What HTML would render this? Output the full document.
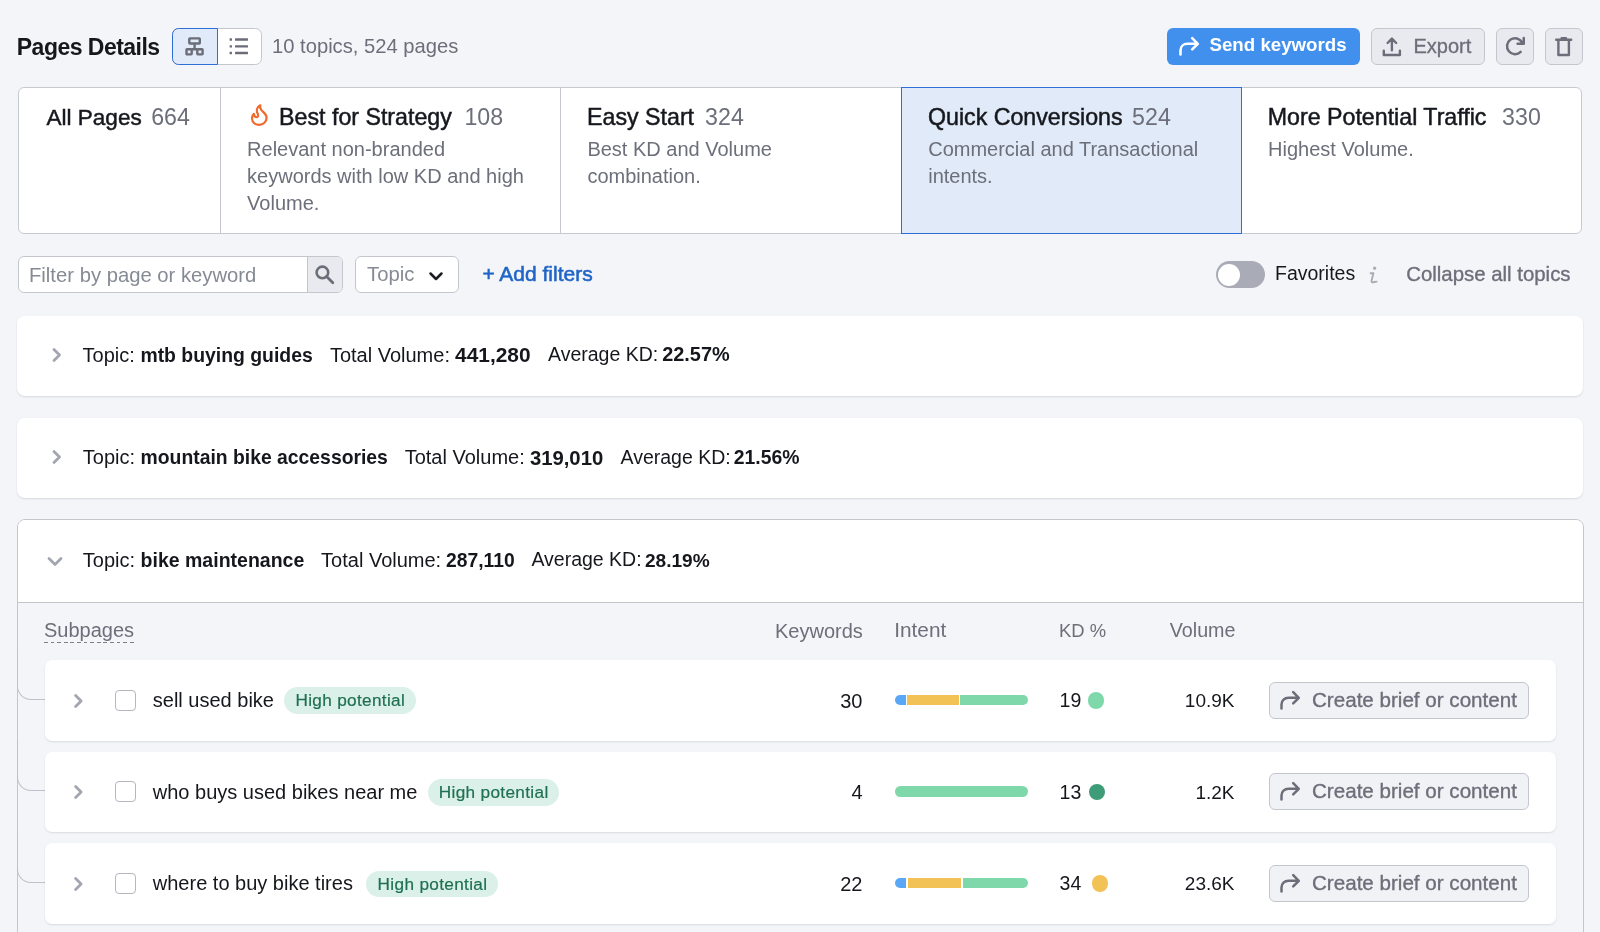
<!DOCTYPE html>
<html><head><meta charset="utf-8">
<style>
*{box-sizing:border-box;margin:0;padding:0}
html,body{width:1600px;height:932px;overflow:hidden;-webkit-font-smoothing:antialiased;background:#f4f5f9;font-family:"Liberation Sans",sans-serif;color:#15171c}
.a{position:absolute}
.t{position:absolute;white-space:nowrap;line-height:1}
.med{-webkit-text-stroke:0.35px currentColor}
.ttl{-webkit-text-stroke:0.5px #1b1d22}
.gray{color:#6c6f7a}
svg{position:absolute;overflow:visible}
.btn{position:absolute;border:1px solid #c4c6cd;background:#e9eaef;border-radius:6px}
.tabs{position:absolute;left:18px;top:87px;width:1564px;height:147px;background:#fff;border:1px solid #c7c9d0;border-radius:6px;overflow:hidden}
.div{position:absolute;top:0;bottom:0;width:1px;background:#c7c9d0}
.card{position:absolute;left:17px;width:1566px;background:#fff;border-radius:8px;box-shadow:0 1px 2px rgba(30,40,60,0.14)}
.row{position:absolute;left:44.5px;width:1511px;height:80.5px;background:#fff;border-radius:7px;box-shadow:0 1px 2px rgba(30,40,60,0.12)}
.cb{position:absolute;width:21px;height:21px;border:1px solid #b4b7c0;border-radius:4px;background:#fff}
.badge{position:absolute;width:131.6px;height:26.8px;border-radius:14px;background:#dcf0ea;color:#1f7052;-webkit-text-stroke:0.2px #1f7052}
.cbtn{position:absolute;left:1224px;width:260px;height:37px;top:21.5px;border:1px solid #c4c6cd;background:#f1f2f5;border-radius:6px}
</style></head><body>
<div style="position:absolute;left:0;top:0;width:1600px;height:932px;will-change:transform">

<!-- header -->
<div class="t" style="left:16.8px;top:36px;font-size:23px;font-weight:700;letter-spacing:-0.52px">Pages Details</div>

<div class="a" style="left:172px;top:28px;width:89.5px;height:37px;border:1px solid #c4c6cd;border-radius:6.5px;background:#fff"></div>
<div class="a" style="left:172px;top:28px;width:45.5px;height:37px;border:1.5px solid #2c6fd6;border-radius:6.5px 0 0 6.5px;background:#e1eaf8"></div>
<svg style="left:184px;top:36px" width="22" height="22" viewBox="0 0 22 22">
  <g fill="none" stroke="#6b6e79" stroke-width="2.4" stroke-linejoin="round">
    <rect x="5.3" y="2.4" width="10.5" height="5.1" rx="0.6"/>
    <rect x="2.5" y="13.2" width="5.2" height="5.2" rx="0.6"/>
    <rect x="13.3" y="13.2" width="5.3" height="5.2" rx="0.6"/>
    <path d="M10.6 7.5V13.2M7.7 13.2H13.3"/>
  </g>
</svg>
<svg style="left:228px;top:36px" width="22" height="22" viewBox="0 0 22 22">
  <g fill="#6b6e79"><rect x="1.6" y="2.3" width="2.4" height="2.4" rx="0.5"/><rect x="1.6" y="9.2" width="2.4" height="2.4" rx="0.5"/><rect x="1.6" y="15.8" width="2.4" height="2.4" rx="0.5"/>
  <rect x="7" y="2.3" width="13" height="2.4" rx="0.5"/><rect x="7" y="9.2" width="13" height="2.4" rx="0.5"/><rect x="7" y="15.8" width="13" height="2.4" rx="0.5"/></g>
</svg>
<div class="t gray" style="left:272px;top:35.8px;font-size:20.2px">10 topics, 524 pages</div>

<!-- send keywords -->
<div class="a" style="left:1166.5px;top:27.5px;width:193px;height:37.5px;background:#4290ee;border-radius:6px"></div>
<svg style="left:1176.6px;top:35px" width="24" height="22" viewBox="0 0 24 22">
  <path d="M3.5 19.5V15.5C3.5 11.5 6.5 8.8 10.5 8.8H20.5M15.2 3.2L20.8 8.8L15.2 14.4" fill="none" stroke="#fff" stroke-width="2.6" stroke-linecap="round" stroke-linejoin="round"/>
</svg>
<div class="t" style="left:1209.5px;top:36.3px;font-size:18.7px;font-weight:700;color:#fff">Send keywords</div>

<!-- export -->
<div class="btn" style="left:1370.5px;top:27.5px;width:114.5px;height:37.5px"></div>
<svg style="left:1381px;top:36px" width="22" height="22" viewBox="0 0 22 22">
  <path d="M10.9 14.2V2.8M6.6 7L10.9 2.6L15.2 7M2.8 14.6V19H18.9V14.6" fill="none" stroke="#6b6e79" stroke-width="2.4" stroke-linecap="round" stroke-linejoin="round"/>
</svg>
<div class="t gray med" style="left:1413.5px;top:35.6px;font-size:20px">Export</div>

<!-- refresh -->
<div class="btn" style="left:1496px;top:27.5px;width:37.5px;height:37.5px"></div>
<svg style="left:1504px;top:36px" width="22" height="22" viewBox="0 0 22 22">
  <path d="M16.66 15.9A8 8 0 1 1 18.1 6.4M19.75 1.9V7.75H13.6" fill="none" stroke="#6b6e79" stroke-width="2.5" stroke-linecap="round" stroke-linejoin="round"/>
</svg>
<!-- trash -->
<div class="btn" style="left:1545px;top:27.5px;width:37.5px;height:37.5px"></div>
<svg style="left:1553px;top:36px" width="22" height="22" viewBox="0 0 22 22">
  <path d="M3.2 3.8H18.2M8.6 2.2H13" fill="none" stroke="#6b6e79" stroke-width="2.4" stroke-linecap="round"/><path d="M5.4 4V19H15.9V4" fill="none" stroke="#6b6e79" stroke-width="2.4" stroke-linejoin="round"/>
</svg>

<!-- tabs -->
<div class="tabs">
  <div class="div" style="left:201px"></div>
  <div class="div" style="left:541px"></div>
  <div class="div" style="left:1222px"></div>
</div>
<div class="a" style="left:900.5px;top:87px;width:341.5px;height:147px;background:#e0eaf9;border:1.5px solid #2d6fd8"></div>

<div class="t ttl" style="left:46.6px;top:107.2px;font-size:22.5px">All Pages</div>
<div class="t gray" style="left:151.2px;top:106.2px;font-size:23.2px">664</div>

<svg style="left:249.6px;top:103px" width="20" height="24" viewBox="0 0 20 24">
  <path d="M10.3 2.3C7.2 4 5.9 7.4 7.7 10.7C8.7 12.6 7.9 14.5 6.1 14.2C4.7 13.9 3.9 12.7 3.9 10.8C2.5 12 1.9 13.6 2 15.4C2.2 19.4 5.4 21.8 9.2 21.8C13.4 21.8 16.6 18.8 16.6 14.6C16.6 10.8 13 9 11.2 6.9C10.4 5.8 10.1 4 10.3 2.3Z" fill="none" stroke="#ee6a2e" stroke-width="2.2" stroke-linejoin="round"/>
</svg>
<div class="t ttl" style="left:279.1px;top:106.2px;font-size:23.2px">Best for Strategy</div>
<div class="t gray" style="left:464.4px;top:106.2px;font-size:23.2px">108</div>
<div class="a gray" style="left:247.1px;top:135.5px;font-size:20px;line-height:27px;width:320px;white-space:nowrap">Relevant non-branded<br>keywords with low KD and high<br>Volume.</div>

<div class="t ttl" style="left:587.1px;top:106.2px;font-size:23.2px">Easy Start</div>
<div class="t gray" style="left:705.1px;top:106.2px;font-size:23.2px">324</div>
<div class="a gray" style="left:587.4px;top:135.5px;font-size:20px;line-height:27px;width:320px;white-space:nowrap">Best KD and Volume<br>combination.</div>

<div class="t ttl" style="left:928px;top:106.2px;font-size:23.2px">Quick Conversions</div>
<div class="t gray" style="left:1132.1px;top:106.2px;font-size:23.2px">524</div>
<div class="a gray" style="left:928.2px;top:135.5px;font-size:20px;line-height:27px;width:320px;white-space:nowrap">Commercial and Transactional<br>intents.</div>

<div class="t ttl" style="left:1267.8px;top:106.2px;font-size:23.2px">More Potential Traffic</div>
<div class="t gray" style="left:1502.1px;top:106.2px;font-size:23.2px">330</div>
<div class="a gray" style="left:1268.1px;top:135.5px;font-size:20px;line-height:27px;width:320px;white-space:nowrap">Highest Volume.</div>

<!-- filters -->
<div class="a" style="left:18px;top:256px;width:325px;height:37px;border:1px solid #c4c6cd;border-radius:6px;background:#fff;overflow:hidden">
  <div class="a" style="left:287.6px;top:0;width:37px;height:36px;background:#e9eaef;border-left:1px solid #c4c6cd"></div>
</div>
<div class="t" style="left:29px;top:265px;font-size:20.25px;color:#868a94">Filter by page or keyword</div>
<svg style="left:314px;top:264.2px" width="22" height="22" viewBox="0 0 22 22">
  <circle cx="8.4" cy="8.4" r="5.8" fill="none" stroke="#6b6e79" stroke-width="2.6"/>
  <path d="M12.6 12.6L18.8 18.8" stroke="#6b6e79" stroke-width="2.8" stroke-linecap="round"/>
</svg>

<div class="a" style="left:354.5px;top:256px;width:104px;height:37px;border:1px solid #c4c6cd;border-radius:6px;background:#fff"></div>
<div class="t" style="left:367px;top:263.6px;font-size:20.3px;color:#868a94">Topic</div>
<svg style="left:428px;top:269.8px" width="16" height="12" viewBox="0 0 16 12">
  <path d="M2.5 3.5L8 9L13.5 3.5" fill="none" stroke="#1b1d22" stroke-width="2.5" stroke-linecap="round" stroke-linejoin="round"/>
</svg>
<div class="t" style="left:482.4px;top:262.6px;font-size:21px;color:#1f64c6;-webkit-text-stroke:0.55px #1f64c6">+ Add filters</div>

<div class="a" style="left:1216.2px;top:261.2px;width:48.6px;height:26.8px;border-radius:14px;background:#a9acb6"></div>
<div class="a" style="left:1218.4px;top:263.8px;width:22px;height:22px;border-radius:50%;background:#fff"></div>
<div class="t" style="left:1275px;top:264.4px;font-size:19.5px">Favorites</div>
<svg style="left:1366px;top:265px" width="14" height="20" viewBox="0 0 14 20"><circle cx="8.6" cy="3.2" r="1.6" fill="#a8abb5"/><path d="M4.6 8.2H7.4L5.6 15.6C5.3 16.8 6 17.5 7.2 17.3L10.6 16.6" fill="none" stroke="#a8abb5" stroke-width="1.9" stroke-linecap="round" stroke-linejoin="round"/></svg>
<div class="t gray med" style="left:1406.2px;top:264.1px;font-size:20.4px">Collapse all topics</div>

<!-- topic cards -->
<div class="card" style="top:315.5px;height:80.5px"></div>
<svg style="left:50px;top:347px" width="14" height="16" viewBox="0 0 14 16">
  <path d="M4 2.5L9.5 8L4 13.5" fill="none" stroke="#a3a6b0" stroke-width="2.8" stroke-linecap="round" stroke-linejoin="round"/>
</svg>
<div class="t" style="left:82.6px;top:344.60px;font-size:20px;">Topic:</div>
<div class="t" style="left:140.4px;top:345.91px;font-size:19.4px;font-weight:700;">mtb buying guides</div>
<div class="t" style="left:329.9px;top:344.60px;font-size:20px;">Total Volume:</div>
<div class="t" style="left:455.1px;top:344.64px;font-size:20.9px;font-weight:700;">441,280</div>
<div class="t" style="left:548px;top:345.03px;font-size:19.5px;">Average KD:</div>
<div class="t" style="left:662.2px;top:345.49px;font-size:19.9px;font-weight:700;">22.57%</div>


<div class="card" style="top:417.7px;height:80.5px"></div>
<svg style="left:50px;top:449px" width="14" height="16" viewBox="0 0 14 16">
  <path d="M4 2.5L9.5 8L4 13.5" fill="none" stroke="#a3a6b0" stroke-width="2.8" stroke-linecap="round" stroke-linejoin="round"/>
</svg>
<div class="t" style="left:82.8px;top:447.10px;font-size:20px;">Topic:</div>
<div class="t" style="left:140.6px;top:448.45px;font-size:19.35px;font-weight:700;">mountain bike accessories</div>
<div class="t" style="left:404.7px;top:447.10px;font-size:20px;">Total Volume:</div>
<div class="t" style="left:529.9px;top:447.65px;font-size:20.3px;font-weight:700;">319,010</div>
<div class="t" style="left:620.5px;top:447.53px;font-size:19.5px;">Average KD:</div>
<div class="t" style="left:733.7px;top:448.41px;font-size:19.4px;font-weight:700;">21.56%</div>


<div class="a" style="left:16.5px;top:519px;width:1567px;height:500px;border:1.2px solid #c3c6cd;border-radius:8px;background:#f4f5f9;overflow:hidden">
  <div class="a" style="left:0;top:0;right:0;height:82.5px;background:#fff;border-bottom:1.2px solid #c3c6cd"></div>
</div>
<svg style="left:46px;top:555px" width="18" height="14" viewBox="0 0 18 14">
  <path d="M3 3.5L9 9.5L15 3.5" fill="none" stroke="#a3a6b0" stroke-width="2.8" stroke-linecap="round" stroke-linejoin="round"/>
</svg>
<div class="t" style="left:82.8px;top:549.90px;font-size:20px;">Topic:</div>
<div class="t" style="left:140.6px;top:551.12px;font-size:19.5px;font-weight:700;">bike maintenance</div>
<div class="t" style="left:321.1px;top:549.90px;font-size:20px;">Total Volume:</div>
<div class="t" style="left:446.1px;top:551.30px;font-size:19.3px;font-weight:700;">287,110</div>
<div class="t" style="left:531.4px;top:550.32px;font-size:19.5px;">Average KD:</div>
<div class="t" style="left:644.9px;top:551.46px;font-size:19.1px;font-weight:700;">28.19%</div>


<!-- subpages header -->
<div class="t gray" style="left:44px;top:619.9px;font-size:20px">Subpages</div>
<div class="a" style="left:44.4px;top:641.6px;width:89.6px;height:1.5px;background:repeating-linear-gradient(to right,#7d808a 0 3.8px,transparent 3.8px 6.6px)"></div>
<div class="t gray" style="left:775px;top:621.00px;font-size:20px">Keywords</div>
<div class="t gray" style="left:894.2px;top:620.32px;font-size:20.8px">Intent</div>
<div class="t gray" style="left:1059.1px;top:622.36px;font-size:18.4px">KD %</div>
<div class="t gray" style="left:1169.8px;top:621.25px;font-size:19.7px">Volume</div>

<!-- connectors -->
<div class="a" style="left:17px;top:649.5px;width:28px;height:50px;border-left:1.2px solid #bec1c9;border-bottom:1.2px solid #bec1c9;border-bottom-left-radius:14px"></div>
<div class="a" style="left:17px;top:741.2px;width:28px;height:50px;border-left:1.2px solid #bec1c9;border-bottom:1.2px solid #bec1c9;border-bottom-left-radius:14px"></div>
<div class="a" style="left:17px;top:832.7px;width:28px;height:50px;border-left:1.2px solid #bec1c9;border-bottom:1.2px solid #bec1c9;border-bottom-left-radius:14px"></div>

<!-- rows -->
<div class="row" style="top:660.0px">
  <svg style="left:27px;top:32.5px" width="14" height="16" viewBox="0 0 14 16"><path d="M3.6 2.5L9.1 8L3.6 13.5" fill="none" stroke="#a3a6b0" stroke-width="2.8" stroke-linecap="round" stroke-linejoin="round"/></svg>
  <div class="cb" style="left:70.2px;top:29.6px"></div>
  <div class="t" style="left:108.3px;top:30.25px;font-size:20px">sell used bike</div>
  <div class="badge" style="left:239.6px;top:27.4px"><div class="t" style="left:0.4px;width:131.6px;text-align:center;top:5px;font-size:17.2px;letter-spacing:0.33px;line-height:1">High potential</div></div>
  <div class="t" style="right:693px;top:30.5px;font-size:20px">30</div>
  <div class="a" style="left:850.9px;top:34.8px;width:132.3px;height:10.5px;border-radius:6px;overflow:hidden;background:#fff"><div class="a" style="left:0px;top:0;width:10.6px;height:10.5px;background:#5aa8f5"></div><div class="a" style="left:12.1px;top:0;width:51.5px;height:10.5px;background:#f3c257"></div><div class="a" style="left:65.1px;top:0;width:67.2px;height:10.5px;background:#7fd8a9"></div></div>
  <div class="t" style="left:1015.1px;top:30.9px;font-size:19.5px">19</div>
  <div class="a" style="left:1043.5px;top:32.2px;width:16.4px;height:16.4px;border-radius:50%;background:#7fd8a9"></div>
  <div class="t" style="right:321px;top:31.1px;font-size:19px">10.9K</div>
  <div class="cbtn">
    <svg style="left:8px;top:6px" width="24" height="22" viewBox="0 0 24 22"><path d="M3.5 19.5V15.5C3.5 11.5 6.5 8.8 10.5 8.8H20.5M15.2 3.2L20.8 8.8L15.2 14.4" fill="none" stroke="#6b6e79" stroke-width="2.5" stroke-linecap="round" stroke-linejoin="round"/></svg>
    <div class="t gray med" style="left:42.5px;top:7.3px;font-size:20.6px">Create brief or content</div>
  </div>
</div>
<div class="row" style="top:751.7px">
  <svg style="left:27px;top:32.5px" width="14" height="16" viewBox="0 0 14 16"><path d="M3.6 2.5L9.1 8L3.6 13.5" fill="none" stroke="#a3a6b0" stroke-width="2.8" stroke-linecap="round" stroke-linejoin="round"/></svg>
  <div class="cb" style="left:70.2px;top:29.6px"></div>
  <div class="t" style="left:108.3px;top:30.25px;font-size:20px">who buys used bikes near me</div>
  <div class="badge" style="left:383.0px;top:27.4px"><div class="t" style="left:0.4px;width:131.6px;text-align:center;top:5px;font-size:17.2px;letter-spacing:0.33px;line-height:1">High potential</div></div>
  <div class="t" style="right:693px;top:30.5px;font-size:20px">4</div>
  <div class="a" style="left:850.9px;top:34.8px;width:132.3px;height:10.5px;border-radius:6px;overflow:hidden;background:#fff"><div class="a" style="left:0px;top:0;width:132.3px;height:10.5px;background:#7fd8a9"></div></div>
  <div class="t" style="left:1015.1px;top:30.9px;font-size:19.5px">13</div>
  <div class="a" style="left:1044.6px;top:32.2px;width:16.4px;height:16.4px;border-radius:50%;background:#3e9c79"></div>
  <div class="t" style="right:321px;top:31.1px;font-size:19px">1.2K</div>
  <div class="cbtn">
    <svg style="left:8px;top:6px" width="24" height="22" viewBox="0 0 24 22"><path d="M3.5 19.5V15.5C3.5 11.5 6.5 8.8 10.5 8.8H20.5M15.2 3.2L20.8 8.8L15.2 14.4" fill="none" stroke="#6b6e79" stroke-width="2.5" stroke-linecap="round" stroke-linejoin="round"/></svg>
    <div class="t gray med" style="left:42.5px;top:7.3px;font-size:20.6px">Create brief or content</div>
  </div>
</div>
<div class="row" style="top:843.2px">
  <svg style="left:27px;top:32.5px" width="14" height="16" viewBox="0 0 14 16"><path d="M3.6 2.5L9.1 8L3.6 13.5" fill="none" stroke="#a3a6b0" stroke-width="2.8" stroke-linecap="round" stroke-linejoin="round"/></svg>
  <div class="cb" style="left:70.2px;top:29.6px"></div>
  <div class="t" style="left:108.3px;top:30.25px;font-size:20px">where to buy bike tires</div>
  <div class="badge" style="left:321.8px;top:27.4px"><div class="t" style="left:0.4px;width:131.6px;text-align:center;top:5px;font-size:17.2px;letter-spacing:0.33px;line-height:1">High potential</div></div>
  <div class="t" style="right:693px;top:30.5px;font-size:20px">22</div>
  <div class="a" style="left:850.9px;top:34.8px;width:132.3px;height:10.5px;border-radius:6px;overflow:hidden;background:#fff"><div class="a" style="left:0px;top:0;width:10.7px;height:10.5px;background:#5aa8f5"></div><div class="a" style="left:12.2px;top:0;width:53.7px;height:10.5px;background:#f3c257"></div><div class="a" style="left:67.4px;top:0;width:65px;height:10.5px;background:#7fd8a9"></div></div>
  <div class="t" style="left:1015.1px;top:30.9px;font-size:19.5px">34</div>
  <div class="a" style="left:1047.5px;top:32.2px;width:16.4px;height:16.4px;border-radius:50%;background:#f3c257"></div>
  <div class="t" style="right:321px;top:31.1px;font-size:19px">23.6K</div>
  <div class="cbtn">
    <svg style="left:8px;top:6px" width="24" height="22" viewBox="0 0 24 22"><path d="M3.5 19.5V15.5C3.5 11.5 6.5 8.8 10.5 8.8H20.5M15.2 3.2L20.8 8.8L15.2 14.4" fill="none" stroke="#6b6e79" stroke-width="2.5" stroke-linecap="round" stroke-linejoin="round"/></svg>
    <div class="t gray med" style="left:42.5px;top:7.3px;font-size:20.6px">Create brief or content</div>
  </div>
</div>

</div>
</body></html>
